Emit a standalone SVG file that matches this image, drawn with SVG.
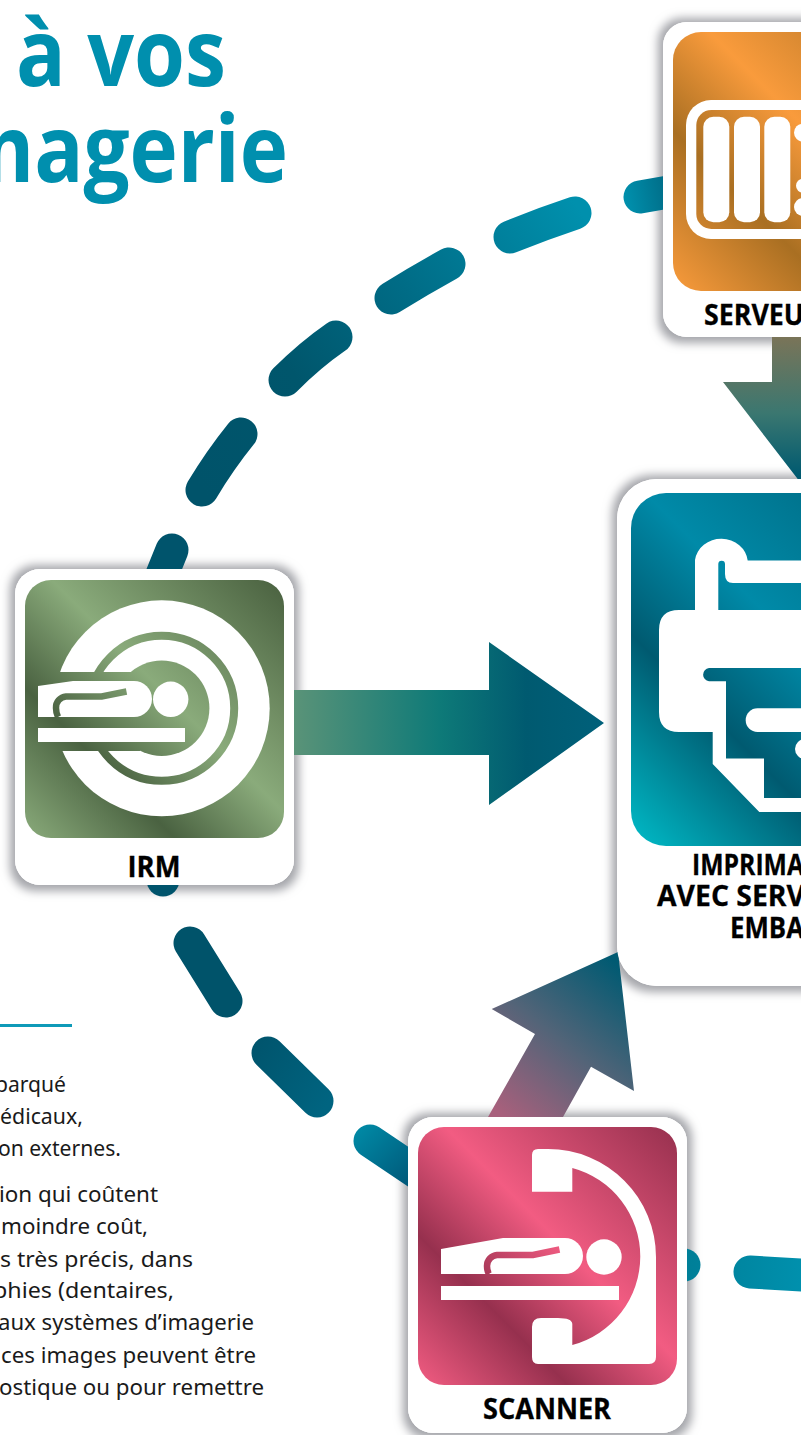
<svg xmlns="http://www.w3.org/2000/svg" width="801" height="1435" viewBox="0 0 801 1435">
<style>
text{font-family:"Open Sans","Noto Sans","Liberation Sans",sans-serif}
.title{font-size:93px;font-weight:700;fill:#008fae}
.lbl{font-size:29px;font-weight:700;fill:#000;stroke:#000;stroke-width:.3}
.body{font-size:21px;fill:#1a1a1a;font-family:"Noto Sans","Liberation Sans",sans-serif}
.card{fill:#fff}
.shadow{fill:#fff;filter:url(#sh)}
.w{fill:#fff}
.dash{fill:none;stroke-width:33;stroke-linecap:round}
</style>
<defs>
<filter id="sh" x="-15%" y="-15%" width="130%" height="130%">
<feMorphology in="SourceAlpha" operator="dilate" radius="5" result="d"/>
<feGaussianBlur in="d" stdDeviation="5" result="b"/>
<feOffset in="b" dy="1" result="o"/>
<feFlood flood-color="#a4a5aa"/>
<feComposite in2="o" operator="in" result="s"/>
<feMerge><feMergeNode in="s"/><feMergeNode in="SourceGraphic"/></feMerge>
</filter>
<linearGradient id="gI" gradientUnits="userSpaceOnUse" x1="284" y1="580" x2="25" y2="838"><stop offset="0" stop-color="#49603f"/><stop offset=".45" stop-color="#8aab7b"/><stop offset=".71" stop-color="#4a6241"/><stop offset="1" stop-color="#8aab7b"/></linearGradient>
<linearGradient id="gC" gradientUnits="userSpaceOnUse" x1="677" y1="1127" x2="418" y2="1385"><stop offset="0" stop-color="#96304e"/><stop offset=".45" stop-color="#f25c82"/><stop offset=".71" stop-color="#96304e"/><stop offset="1" stop-color="#f25c82"/></linearGradient>
<linearGradient id="gS" gradientUnits="userSpaceOnUse" x1="932" y1="32" x2="673" y2="291"><stop offset="0" stop-color="#a96f22"/><stop offset=".43" stop-color="#f99b3c"/><stop offset=".69" stop-color="#a96f22"/><stop offset="1" stop-color="#f99b3c"/></linearGradient>
<linearGradient id="gP" gradientUnits="userSpaceOnUse" x1="984" y1="493" x2="631" y2="846"><stop offset="0" stop-color="#005a70"/><stop offset=".48" stop-color="#008aa8"/><stop offset=".7" stop-color="#005a70"/><stop offset="1" stop-color="#00bcc8"/></linearGradient>
<linearGradient id="dU" gradientUnits="userSpaceOnUse" x1="202" y1="490" x2="590" y2="225"><stop offset="0" stop-color="#00536a"/><stop offset=".3" stop-color="#00566c"/><stop offset=".6" stop-color="#006c86"/><stop offset="1" stop-color="#0090ad"/></linearGradient>
<linearGradient id="dT" gradientUnits="userSpaceOnUse" x1="625" y1="200" x2="665" y2="192"><stop offset="0" stop-color="#0090ad"/><stop offset="1" stop-color="#006f8a"/></linearGradient>
<linearGradient id="dL" gradientUnits="userSpaceOnUse" x1="240" y1="1040" x2="330" y2="1100"><stop offset="0" stop-color="#00526a"/><stop offset="1" stop-color="#006480"/></linearGradient>
<linearGradient id="dM" gradientUnits="userSpaceOnUse" x1="358" y1="1130" x2="410" y2="1182"><stop offset="0" stop-color="#0088a4"/><stop offset="1" stop-color="#00597a"/></linearGradient>
<linearGradient id="dR" gradientUnits="userSpaceOnUse" x1="690" y1="1265" x2="801" y2="1275"><stop offset="0" stop-color="#007f98"/><stop offset="1" stop-color="#0090ad"/></linearGradient>
<linearGradient id="aI" gradientUnits="userSpaceOnUse" x1="294" y1="0" x2="604" y2="0"><stop offset="0" stop-color="#5a9378"/><stop offset=".47" stop-color="#0e7a78"/><stop offset=".75" stop-color="#005a70"/><stop offset="1" stop-color="#00607a"/></linearGradient>
<linearGradient id="aS" gradientUnits="userSpaceOnUse" x1="0" y1="337" x2="0" y2="475"><stop offset="0" stop-color="#7a7458"/><stop offset=".55" stop-color="#3b7770"/><stop offset="1" stop-color="#005a70"/></linearGradient>
<linearGradient id="aC" gradientUnits="userSpaceOnUse" x1="505" y1="1117" x2="625" y2="970"><stop offset="0" stop-color="#a8607c"/><stop offset=".5" stop-color="#526478"/><stop offset="1" stop-color="#005a72"/></linearGradient>
</defs>

<g id="title">
<text class="title" x="16" y="86" textLength="210" lengthAdjust="spacingAndGlyphs">à vos</text>
<text class="title" x="-46" y="181.500" textLength="334" lengthAdjust="spacingAndGlyphs">magerie</text>
</g>

<g id="shadows">
<rect class="shadow" x="663" y="22" width="280" height="315" rx="24"/>
<rect class="shadow" x="617" y="479" width="400" height="507" rx="40"/>
<rect class="shadow" x="15" y="569" width="279" height="316" rx="25"/>
<rect class="shadow" x="408" y="1117" width="279" height="316" rx="25"/>
</g>

<g id="connectors">
<path class="dash" stroke="url(#dT)" d="M640 197L680 190"/>
<path class="dash" stroke="url(#dU)" d="M510 237Q542 224 575 213"/>
<path class="dash" stroke="url(#dU)" d="M391 298Q420 280 449 264"/>
<path class="dash" stroke="url(#dU)" d="M285 380Q310 355 336 337"/>
<path class="dash" stroke="url(#dU)" d="M202 490Q220 460 241 434"/>
<path class="dash" stroke="#00546c" d="M172 550L155 592"/>
<path class="dash" stroke="#00546c" d="M163 880L163 860"/>
<path class="dash" stroke="#00536a" d="M190 943L226 1001"/>
<path class="dash" stroke="url(#dL)" d="M268 1053L317 1101"/>
<path class="dash" stroke="url(#dM)" d="M370 1141L425 1178"/>
<path class="dash" stroke="url(#dR)" d="M684 1265L670 1265"/>
<path class="dash" stroke="url(#dR)" d="M750 1272L820 1276"/>
<polygon fill="url(#aI)" points="294,690 489,690 489,642 604,723 489,805 489,755 294,755"/>
<polygon fill="url(#aS)" points="772,330 810,330 810,495 723,382 772,382"/>
<polygon fill="url(#aC)" points="491.700,1009 618,952 634,1091 591,1066.700 563,1117 488,1117 535,1034"/>
</g>

<g id="node-serveur">
<rect class="card" x="663" y="22" width="280" height="315" rx="24"/>
<rect x="673" y="32" width="259" height="259" rx="28" fill="url(#gS)"/>
<rect class="w" x="686" y="100" width="200" height="139" rx="25"/>
<rect x="696.300" y="110" width="180" height="119" rx="15" fill="url(#gS)"/>
<rect class="w" x="703.300" y="116.700" width="26" height="105.600" rx="10"/>
<rect class="w" x="734" y="116.700" width="26" height="105.600" rx="10"/>
<rect class="w" x="764.300" y="116.700" width="26" height="105.600" rx="10"/>
<circle class="w" cx="803" cy="132.700" r="9"/><circle class="w" cx="803" cy="185.700" r="7"/><circle class="w" cx="803" cy="207" r="9"/>
<text class="lbl" x="704" y="325" textLength="100" lengthAdjust="spacingAndGlyphs">SERVEU</text>
</g>

<g id="node-imprimante">
<rect class="card" x="617" y="479" width="400" height="507" rx="40"/>
<rect x="631" y="493" width="353" height="353" rx="35" fill="url(#gP)"/>
<path class="w" d="M695 560A26.500 24 0 0 1 747.700 560.600H801V812H759.300L712.700 764V732H679Q659 732 659 712V630Q659 610 679 610H695Z"/>
<path fill="url(#gP)" d="M718.300 564A3.300 3.300 0 0 1 725 564V574Q725 583 733 583H801V610H718.300Z"/>
<path fill="url(#gP)" d="M709 668A6.700 6.700 0 0 0 709 681.300H726V758.400H764V798H801V668Z"/>
<rect class="w" x="745.700" y="708.300" width="80" height="23.700" rx="11.800"/>
<circle class="w" cx="805" cy="749" r="10"/>
<text class="lbl" x="692" y="875" textLength="112" lengthAdjust="spacingAndGlyphs">IMPRIMA</text>
<text class="lbl" x="657" y="906" textLength="148" lengthAdjust="spacingAndGlyphs">AVEC SERV</text>
<text class="lbl" x="730" y="938" textLength="74" lengthAdjust="spacingAndGlyphs">EMBA</text>
</g>

<g id="node-irm">
<rect class="card" x="15" y="569" width="279" height="316" rx="25"/>
<rect x="25" y="580" width="259" height="258" rx="26" fill="url(#gI)"/>
<circle class="w" cx="161.700" cy="708.300" r="108"/>
<circle cx="161.700" cy="708.300" r="72.500" fill="none" stroke="url(#gI)" stroke-width="8"/>
<circle cx="161.700" cy="708.300" r="47.700" fill="url(#gI)"/>
<rect x="25" y="672" width="115" height="79" fill="url(#gI)"/>
<path fill="none" stroke="#fff" stroke-width="6" stroke-linecap="round" d="M142 622.500Q162 618 183 622.500"/>
<path class="w" d="M38 686L73 681H134A18 18 0 0 1 134 717H38Z"/>
<path fill="none" stroke="url(#gI)" stroke-width="6.500" d="M126.500 691.500L101.700 696.500H66A11 11 0 0 0 56 708Q56 713 58 717"/>
<circle class="w" cx="170.700" cy="699.300" r="17.700"/>
<rect class="w" x="38" y="728" width="147" height="14"/>
<text class="lbl" x="154" y="877" text-anchor="middle" textLength="53" lengthAdjust="spacingAndGlyphs">IRM</text>
</g>

<g id="node-scanner">
<rect class="card" x="408" y="1117" width="279" height="316" rx="25"/>
<rect x="418" y="1127" width="259" height="258" rx="26" fill="url(#gC)"/>
<path class="w" d="M538 1149H548A108 108 0 0 1 656 1257V1357Q656 1364 649 1364H538Q532 1364 532 1357V1327Q532 1318 541 1318H558Q572 1318 572.300 1324V1345A91.600 91.600 0 0 0 572.300 1168V1191.700H532V1155Q532 1149 538 1149Z"/>
<path class="w" d="M441 1249L503 1238H565A18 18 0 0 1 565 1274H441Z"/>
<path fill="none" stroke="url(#gC)" stroke-width="6.500" d="M559.500 1249.500L533 1255H497A11 11 0 0 0 487 1266Q487 1271 489 1274"/>
<circle class="w" cx="604" cy="1257" r="17.700"/>
<rect class="w" x="441" y="1286" width="178" height="14"/>
<text class="lbl" x="547" y="1419" text-anchor="middle" textLength="128" lengthAdjust="spacingAndGlyphs">SCANNER</text>
</g>

<g id="texte">
<rect x="0" y="1024" width="72" height="3" fill="#0e9ab8"/>
<text class="body" x="-5" y="1091.700" textLength="71" lengthAdjust="spacingAndGlyphs">parqué</text>
<text class="body" x="0" y="1124" textLength="83" lengthAdjust="spacingAndGlyphs">édicaux,</text>
<text class="body" x="-2" y="1155.700" textLength="123" lengthAdjust="spacingAndGlyphs">on externes.</text>
<text class="body" x="-1" y="1201.700" textLength="159" lengthAdjust="spacingAndGlyphs">ion qui coûtent</text>
<text class="body" x="1" y="1234" textLength="147" lengthAdjust="spacingAndGlyphs">moindre coût,</text>
<text class="body" x="0" y="1266.700" textLength="193" lengthAdjust="spacingAndGlyphs">s très précis, dans</text>
<text class="body" x="-7" y="1298" textLength="181" lengthAdjust="spacingAndGlyphs">phies (dentaires,</text>
<text class="body" x="-2" y="1330" textLength="256" lengthAdjust="spacingAndGlyphs">aux systèmes d’imagerie</text>
<text class="body" x="1" y="1362.700" textLength="255" lengthAdjust="spacingAndGlyphs">ces images peuvent être</text>
<text class="body" x="-1" y="1395" textLength="265" lengthAdjust="spacingAndGlyphs">ostique ou pour remettre</text>
</g>
</svg>
